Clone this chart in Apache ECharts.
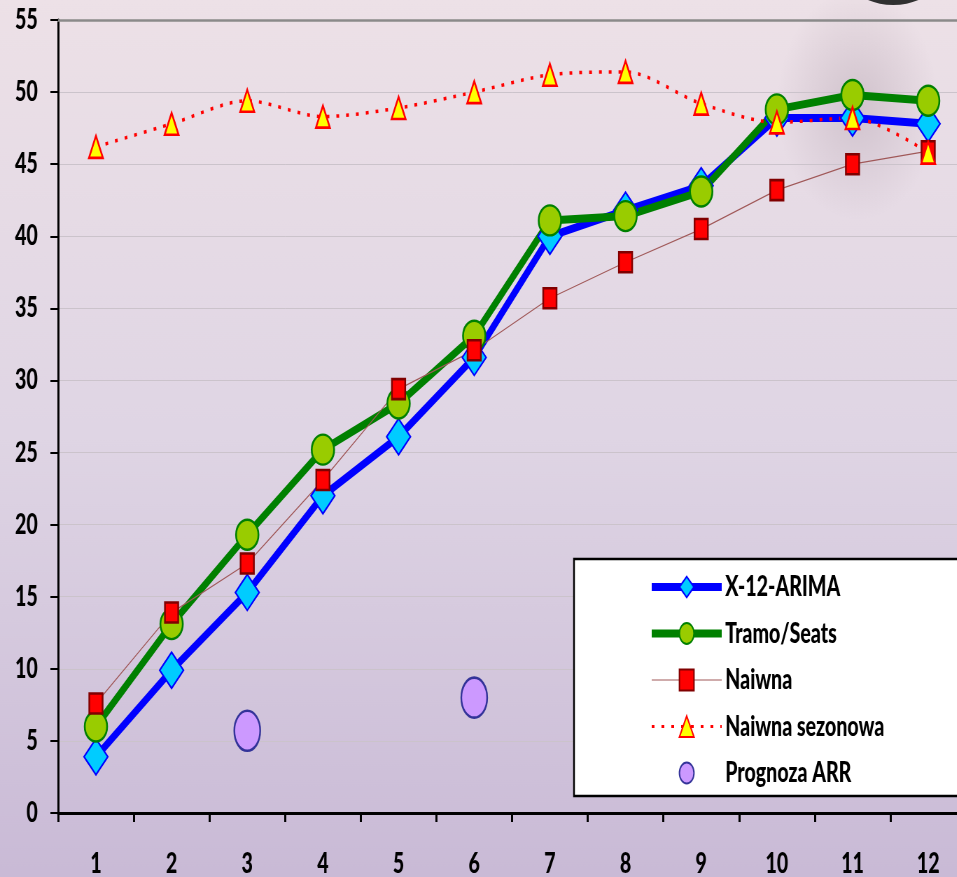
<!DOCTYPE html>
<html>
<head>
<meta charset="utf-8">
<script src="https://cdn.jsdelivr.net/npm/echarts@6/dist/echarts.min.js"></script>
<style>
html,body{margin:0;padding:0;overflow:hidden;width:957px;height:877px;}
#chart{width:1420px;height:877px;transform:scaleX(0.7);transform-origin:0 0;}
</style>
</head>
<body>
<div id="chart"></div>
<script>
const categories = ['1','2','3','4','5','6','7','8','9','10','11','12'];
const x12arima = [3.9, 9.9, 15.3, 22.0, 26.1, 31.6, 40.0, 41.8, 43.5, 48.2, 48.2, 47.8];
const tramoSeats = [6.0, 13.1, 19.3, 25.2, 28.4, 33.1, 41.1, 41.4, 43.1, 48.8, 49.8, 49.4];
const naiwna = [7.6, 13.9, 17.3, 23.1, 29.4, 32.1, 35.7, 38.2, 40.5, 43.2, 45.0, 45.9];
const naiwnaSezonowa = [46.2, 47.8, 49.4, 48.3, 48.9, 50.0, 51.2, 51.4, 49.2, 47.9, 48.2, 45.8];
const prognozaARR = [null, null, 5.7, null, null, 8.0, null, null, null, null, null, null];
const seriesNames = ['X-12-ARIMA', 'Tramo/Seats', 'Naiwna', 'Naiwna sezonowa', 'Prognoza ARR'];

// page is horizontally condensed by 0.7 (CSS), so x-sizes below are pre-scale
const FONT = "Lato, 'Open Sans', 'Liberation Sans', sans-serif";
const chart = echarts.init(document.getElementById('chart'));
chart.setOption({
  backgroundColor: {
    type: 'linear', x: 0, y: 0, x2: 0, y2: 1,
    colorStops: [
      {offset: 0, color: '#ede1e7'},
      {offset: 0.5, color: '#dfd5e4'},
      {offset: 1, color: '#c9bad6'}
    ]
  },
  animation: false,
  graphic: [
    {type: 'ellipse', shape: {cx: 1225, cy: 105, rx: 180, ry: 115},
     style: {fill: {type: 'radial', x: 0.5, y: 0.5, r: 0.5,
       colorStops: [{offset: 0, color: 'rgba(150,130,145,0.3)'}, {offset: 1, color: 'rgba(150,130,145,0)'}]}},
     silent: true, z: -1},
    {type: 'ellipse', shape: {cx: 1276, cy: -28, rx: 68, ry: 33},
     style: {fill: '#303030'}, silent: true, z: 100}
  ],
  grid: {left: 83, top: 20, width: 1297, bottom: 64, containLabel: false, outerBoundsMode: 'none'},
  legend: {
    orient: 'vertical',
    left: 820, top: 559,
    data: [
      {name: seriesNames[0], lineStyle: {width: 8}},
      {name: seriesNames[1], lineStyle: {width: 8}},
      {name: seriesNames[2], lineStyle: {width: 1}},
      {name: seriesNames[3], lineStyle: {width: 3}},
      {name: seriesNames[4]}
    ],
    backgroundColor: '#ffffff',
    borderColor: '#000000',
    borderWidth: 2.5,
    padding: [14, 300, 9, 107],
    itemWidth: 100, itemHeight: 26, itemGap: 18.5,
    textStyle: {fontFamily: FONT, fontWeight: 900, fontSize: 28, color: '#000', lineHeight: 26}
  },
  xAxis: [{
    type: 'category',
    data: categories,
    boundaryGap: true,
    axisLine: {lineStyle: {color: '#000', width: 3}},
    axisTick: {show: true, length: 9, lineStyle: {color: '#000', width: 3}},
    axisLabel: {fontFamily: FONT, fontWeight: 900, fontSize: 28, lineHeight: 28, color: '#000', margin: 37}
  }, {
    type: 'category',
    data: categories,
    position: 'top',
    axisLine: {lineStyle: {color: '#8a8a8a', width: 2.5}},
    axisTick: {show: false},
    axisLabel: {show: false}
  }],
  yAxis: {
    type: 'value',
    min: 0, max: 55, interval: 5,
    axisLine: {show: true, lineStyle: {color: '#000', width: 3}},
    axisTick: {show: true, length: 11, lineStyle: {color: '#000', width: 2}},
    axisLabel: {fontFamily: FONT, fontWeight: 900, fontSize: 28, color: '#000', margin: 29},
    splitLine: {lineStyle: {color: '#cbc3cb', width: 1}}
  },
  series: [
    {
      name: seriesNames[0], type: 'line', data: x12arima,
      symbol: 'diamond', symbolSize: [34, 36],
      lineStyle: {color: '#0000ff', width: 8},
      itemStyle: {color: '#00ccff', borderColor: '#0000ff', borderWidth: 2}
    },
    {
      name: seriesNames[1], type: 'line', data: tramoSeats,
      symbol: 'circle', symbolSize: [32, 30],
      lineStyle: {color: '#008000', width: 8},
      itemStyle: {color: '#99cc00', borderColor: '#008000', borderWidth: 2.5}
    },
    {
      name: seriesNames[2], type: 'line', data: naiwna,
      symbol: 'rect', symbolSize: [19, 20],
      lineStyle: {color: '#a05858', width: 1.2},
      itemStyle: {color: '#ff0000', borderColor: '#800000', borderWidth: 2.5}
    },
    {
      name: seriesNames[3], type: 'line', data: naiwnaSezonowa,
      smooth: 0.3,
      symbol: 'triangle', symbolSize: [20, 22],
      lineStyle: {color: '#ff0000', width: 3.5, type: [4, 10]},
      itemStyle: {color: '#ffff00', borderColor: '#ff0000', borderWidth: 2.5}
    },
    {
      name: seriesNames[4], type: 'line', data: prognozaARR,
      symbol: 'circle', symbolSize: [37, 40],
      showAllSymbol: true,
      lineStyle: {width: 0, opacity: 0},
      itemStyle: {color: '#cc99ff', borderColor: '#333399', borderWidth: 2.5}
    }
  ]
});
</script>
</body>
</html>
